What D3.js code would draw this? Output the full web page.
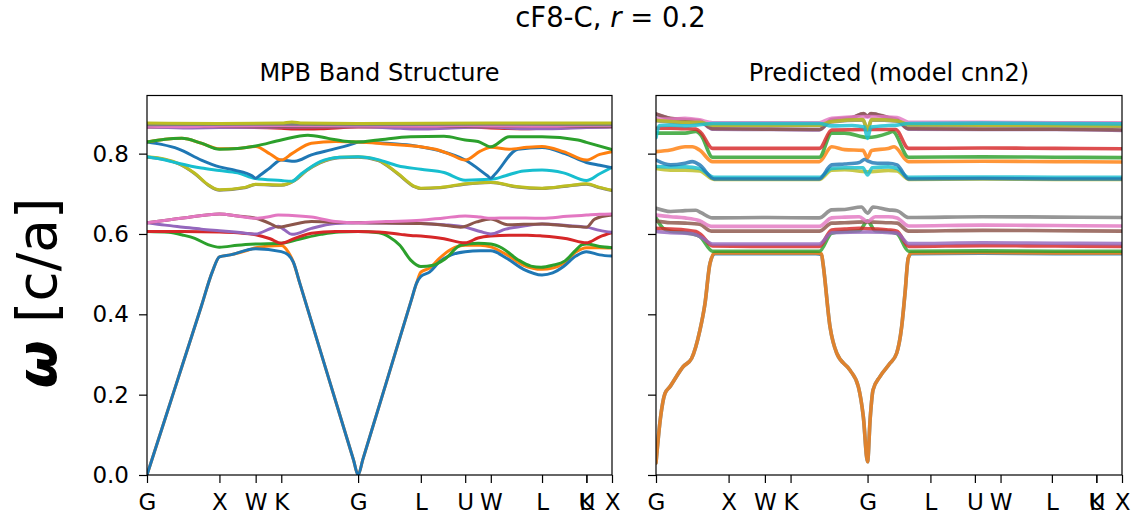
<!DOCTYPE html>
<html>
<head>
<meta charset="utf-8">
<script src="https://cdn.jsdelivr.net/npm/d3@7"></script>
<style>
  html, body { margin: 0; padding: 0; background: #fff; }
  svg { display: block; font-family: "DejaVu Sans", sans-serif; }
</style>
</head>
<body>
<script>
// ---------------- data ----------------
const tab10 = ["#1f77b4","#ff7f0e","#2ca02c","#d62728","#9467bd","#8c564b","#e377c2","#7f7f7f","#bcbd22","#17becf"];
const kTickPos = [0, 1, 1.5, 1.8536, 2.9142, 3.7802, 4.3926, 4.7462, 5.4533, 6.0656, 6.0656, 6.4192];
const kTickLabels = ["G","X","W","K","G","L","U","W","L","K","U","X"];
const yTickValues = [0, 0.2, 0.4, 0.6, 0.8];
const yMax = 0.9447;

// MPB band structure: [k, omega] knots per band
const mpb01 = [[0,0],[0.25,0.14],[0.5,0.28],[0.75,0.42],[0.9,0.505],[1.0,0.543],[1.15,0.548],[1.5,0.563],[1.854,0.556],[1.95,0.548],[2.02,0.53],[2.11,0.477],[2.5,0.2456],[2.85,0.038],[2.914,0],[2.98,0.039],[3.3,0.228],[3.65,0.436],[3.72,0.477],[3.78,0.494],[3.9,0.505],[4.04,0.531],[4.2,0.548],[4.393,0.556],[4.6,0.558],[4.746,0.558],[4.97,0.539],[5.2,0.512],[5.453,0.498],[5.6,0.503],[5.75,0.519],[5.92,0.545],[6.066,0.556],[6.25,0.548],[6.419,0.545]];
const mpb02 = [[0,0],[0.25,0.14],[0.5,0.28],[0.75,0.42],[0.9,0.505],[1.0,0.543],[1.15,0.548],[1.4,0.56],[1.5,0.566],[1.854,0.571],[1.95,0.555],[2.02,0.53],[2.11,0.477],[2.5,0.2456],[2.85,0.038],[2.914,0],[2.98,0.039],[3.3,0.228],[3.65,0.436],[3.72,0.477],[3.78,0.505],[3.9,0.515],[4.04,0.54],[4.2,0.562],[4.393,0.572],[4.6,0.572],[4.746,0.568],[4.97,0.548],[5.2,0.522],[5.453,0.512],[5.6,0.515],[5.75,0.527],[5.92,0.555],[6.066,0.566],[6.25,0.566],[6.419,0.565]];
const mpb03 = [[0,0.606],[0.3,0.604],[0.5,0.597],[0.66,0.589],[0.85,0.573],[1.0,0.567],[1.25,0.572],[1.5,0.575],[1.854,0.577],[2.1,0.587],[2.4,0.599],[2.65,0.605],[2.914,0.606],[3.2,0.603],[3.35,0.592],[3.49,0.572],[3.64,0.535],[3.78,0.519],[3.95,0.522],[4.11,0.537],[4.33,0.572],[4.57,0.577],[4.746,0.575],[4.9,0.565],[5.12,0.536],[5.3,0.52],[5.44,0.517],[5.6,0.522],[5.77,0.533],[5.92,0.56],[6.0,0.573],[6.066,0.575],[6.25,0.569],[6.419,0.566]];
const mpb04 = [[0,0.606],[0.5,0.606],[1.0,0.605],[1.25,0.603],[1.5,0.598],[1.7,0.588],[1.854,0.577],[2.04,0.589],[2.27,0.602],[2.6,0.606],[2.914,0.606],[3.2,0.605],[3.5,0.599],[3.64,0.596],[3.78,0.595],[4.1,0.588],[4.393,0.578],[4.57,0.59],[4.746,0.595],[5.0,0.597],[5.25,0.597],[5.453,0.595],[5.8,0.588],[6.066,0.578],[6.25,0.593],[6.419,0.603]];
const mpb05 = [[0,0.628],[0.25,0.622],[0.5,0.617],[0.75,0.612],[1.0,0.608],[1.25,0.604],[1.5,0.600],[1.7,0.613],[1.81,0.619],[1.9,0.61],[2.0,0.599],[2.27,0.614],[2.6,0.626],[2.914,0.628],[3.3,0.627],[3.78,0.626],[4.1,0.623],[4.393,0.617],[4.6,0.606],[4.746,0.600],[4.95,0.612],[5.2,0.62],[5.453,0.625],[5.8,0.621],[6.066,0.617],[6.25,0.609],[6.419,0.604]];
const mpb06 = [[0,0.628],[0.5,0.640],[1.0,0.650],[1.25,0.645],[1.5,0.639],[1.7,0.626],[1.81,0.617],[1.95,0.621],[2.27,0.631],[2.6,0.629],[2.914,0.628],[3.3,0.627],[3.78,0.626],[4.1,0.622],[4.33,0.617],[4.55,0.63],[4.746,0.637],[4.98,0.623],[5.2,0.624],[5.453,0.625],[5.8,0.62],[6.066,0.617],[6.18,0.637],[6.419,0.647]];
const mpb07 = [[0,0.628],[0.5,0.640],[1.0,0.650],[1.25,0.645],[1.5,0.639],[1.68,0.643],[1.81,0.647],[2.1,0.645],[2.27,0.642],[2.6,0.631],[2.914,0.628],[3.3,0.631],[3.78,0.634],[4.1,0.640],[4.393,0.645],[4.6,0.642],[4.746,0.639],[5.0,0.640],[5.453,0.639],[5.8,0.644],[6.066,0.647],[6.25,0.649],[6.419,0.650]];
const mpb08 = [[0,0.791],[0.25,0.785],[0.43,0.775],[0.66,0.750],[0.85,0.721],[1.0,0.709],[1.35,0.715],[1.5,0.723],[1.854,0.721],[2.04,0.733],[2.2,0.757],[2.39,0.777],[2.66,0.790],[2.914,0.791],[3.19,0.783],[3.46,0.750],[3.7,0.717],[3.78,0.713],[4.05,0.715],[4.393,0.724],[4.746,0.728],[5.1,0.717],[5.453,0.713],[5.8,0.719],[6.066,0.724],[6.25,0.715],[6.419,0.708]];
const mpb09 = [[0,0.792],[0.25,0.786],[0.43,0.776],[0.66,0.751],[0.85,0.722],[1.0,0.710],[1.35,0.716],[1.5,0.724],[1.854,0.722],[2.04,0.734],[2.2,0.758],[2.39,0.778],[2.66,0.791],[2.914,0.792],[3.19,0.784],[3.46,0.751],[3.7,0.718],[3.78,0.714],[4.05,0.716],[4.393,0.725],[4.746,0.729],[5.1,0.718],[5.453,0.714],[5.8,0.72],[6.066,0.725],[6.25,0.716],[6.419,0.709]];
const mpb10 = [[0,0.792],[0.25,0.784],[0.43,0.776],[0.75,0.764],[1.0,0.758],[1.25,0.752],[1.5,0.738],[1.854,0.733],[2.0,0.731],[2.12,0.748],[2.39,0.780],[2.66,0.791],[2.914,0.792],[3.19,0.785],[3.46,0.77],[3.78,0.761],[4.1,0.753],[4.393,0.734],[4.746,0.736],[4.95,0.745],[5.2,0.757],[5.453,0.759],[5.75,0.752],[6.066,0.733],[6.25,0.75],[6.419,0.766]];
const mpb11 = [[0,0.829],[0.2,0.823],[0.43,0.812],[0.75,0.784],[1.0,0.767],[1.21,0.759],[1.45,0.745],[1.5,0.739],[1.56,0.746],[1.7,0.765],[1.854,0.784],[2.04,0.781],[2.27,0.797],[2.55,0.81],[2.87,0.826],[2.914,0.829],[3.3,0.826],[3.64,0.821],[4.02,0.808],[4.393,0.784],[4.7,0.745],[4.746,0.739],[4.8,0.748],[5.12,0.811],[5.453,0.815],[5.77,0.80],[6.066,0.778],[6.25,0.771],[6.419,0.765]];
const mpb12 = [[0,0.829],[0.25,0.836],[0.48,0.838],[0.75,0.826],[1.0,0.812],[1.25,0.813],[1.5,0.818],[1.7,0.799],[1.854,0.784],[2.0,0.80],[2.27,0.826],[2.6,0.83],[2.914,0.829],[3.3,0.824],[3.78,0.817],[4.02,0.809],[4.2,0.797],[4.393,0.784],[4.6,0.806],[4.746,0.816],[5.0,0.811],[5.25,0.816],[5.453,0.818],[5.75,0.805],[6.066,0.784],[6.25,0.798],[6.419,0.805]];
const mpb13 = [[0,0.829],[0.25,0.836],[0.48,0.838],[0.75,0.826],[1.0,0.811],[1.25,0.813],[1.5,0.819],[1.854,0.834],[2.22,0.846],[2.5,0.838],[2.73,0.831],[2.914,0.829],[3.19,0.834],[3.64,0.842],[4.1,0.843],[4.393,0.834],[4.57,0.830],[4.746,0.817],[5.0,0.842],[5.453,0.842],[5.95,0.834],[6.066,0.828],[6.419,0.810]];
const mpb14 = [[0,0.866],[1.0,0.866],[1.854,0.863],[2.1,0.861],[2.4,0.862],[2.914,0.866],[3.78,0.866],[4.393,0.866],[4.746,0.864],[5.2,0.862],[5.453,0.863],[6.066,0.866],[6.419,0.867]];
const mpb15 = [[0,0.866],[0.5,0.864],[1.0,0.865],[1.854,0.866],[2.914,0.867],[3.5,0.863],[3.78,0.861],[4.2,0.864],[4.746,0.866],[5.2,0.862],[5.6,0.862],[6.066,0.865],[6.419,0.866]];
const mpb16 = [[0,0.868],[1.0,0.868],[2.914,0.868],[4.746,0.868],[6.419,0.868]];
const mpb17 = [[0,0.868],[0.5,0.867],[1.0,0.869],[1.854,0.870],[2.914,0.869],[3.78,0.868],[4.393,0.870],[4.746,0.869],[5.453,0.868],[6.066,0.870],[6.419,0.870]];
const mpb18 = [[0,0.872],[1.854,0.873],[2.914,0.872],[4.746,0.873],[6.419,0.872]];
const mpb19 = [[0,0.876],[1.0,0.875],[1.854,0.876],[2.0,0.879],[2.15,0.876],[2.914,0.875],[4.746,0.876],[6.419,0.876]];

// Predicted (model cnn2): [k, omega] knots per band
const cnn01 = [[0,0.03],[0.06,0.14],[0.124,0.203],[0.193,0.22],[0.376,0.27],[0.49,0.29],[0.606,0.361],[0.675,0.427],[0.744,0.527],[0.813,0.551],[1.5,0.551],[2.2,0.551],[2.28,0.549],[2.3,0.527],[2.397,0.369],[2.49,0.303],[2.672,0.261],[2.787,0.22],[2.856,0.145],[2.914,0.033],[2.95,0.14],[2.99,0.212],[3.085,0.245],[3.223,0.278],[3.315,0.303],[3.384,0.369],[3.43,0.452],[3.475,0.54],[3.52,0.551],[4.5,0.552],[5.5,0.551],[6.419,0.551]];
const cnn02 = [[0,0.03],[0.06,0.14],[0.124,0.203],[0.193,0.22],[0.376,0.27],[0.49,0.29],[0.606,0.361],[0.675,0.427],[0.744,0.527],[0.813,0.553],[1.5,0.553],[2.2,0.553],[2.28,0.551],[2.3,0.527],[2.397,0.369],[2.49,0.303],[2.672,0.261],[2.787,0.22],[2.856,0.145],[2.914,0.033],[2.95,0.14],[2.99,0.212],[3.085,0.245],[3.223,0.278],[3.315,0.303],[3.384,0.369],[3.43,0.452],[3.475,0.54],[3.52,0.553],[4.5,0.554],[5.5,0.553],[6.419,0.553]];
const cnn03 = [[0,0.64],[0.1,0.614],[0.2,0.607],[0.4,0.603],[0.6,0.594],[0.78,0.557],[1.5,0.557],[2.25,0.557],[2.42,0.602],[2.6,0.606],[2.8,0.608],[2.914,0.632],[3.02,0.608],[3.2,0.606],[3.32,0.601],[3.48,0.557],[4.5,0.558],[5.5,0.557],[6.419,0.557]];
const cnn04 = [[0,0.614],[0.2,0.612],[0.4,0.61],[0.55,0.606],[0.62,0.598],[0.78,0.57],[1.5,0.569],[2.25,0.569],[2.42,0.61],[2.6,0.612],[2.8,0.614],[2.914,0.613],[3.05,0.612],[3.2,0.61],[3.32,0.607],[3.48,0.569],[4.5,0.571],[5.5,0.57],[6.419,0.569]];
const cnn05 = [[0,0.606],[0.2,0.603],[0.4,0.602],[0.55,0.598],[0.62,0.592],[0.78,0.575],[1.5,0.575],[2.25,0.575],[2.42,0.603],[2.914,0.605],[3.32,0.602],[3.48,0.576],[4.5,0.578],[5.5,0.577],[6.419,0.576]];
const cnn06 = [[0,0.632],[0.2,0.628],[0.4,0.627],[0.6,0.624],[0.76,0.607],[1.5,0.607],[2.25,0.607],[2.42,0.627],[2.6,0.628],[2.914,0.63],[3.2,0.628],[3.32,0.627],[3.48,0.607],[4.5,0.609],[5.5,0.608],[6.419,0.607]];
const cnn07 = [[0,0.647],[0.2,0.643],[0.4,0.640],[0.6,0.633],[0.76,0.619],[1.5,0.619],[2.25,0.619],[2.42,0.64],[2.6,0.642],[2.8,0.643],[2.914,0.631],[3.02,0.643],[3.2,0.643],[3.32,0.64],[3.48,0.62],[4.5,0.622],[5.5,0.621],[6.419,0.620]];
const cnn08 = [[0,0.664],[0.2,0.656],[0.4,0.658],[0.55,0.659],[0.62,0.653],[0.78,0.640],[1.5,0.641],[2.25,0.64],[2.42,0.66],[2.6,0.661],[2.83,0.667],[2.914,0.652],[2.99,0.667],[3.2,0.66],[3.32,0.658],[3.48,0.641],[4.5,0.643],[5.5,0.642],[6.419,0.641]];
const cnn09 = [[0,0.763],[0.2,0.759],[0.4,0.759],[0.6,0.757],[0.8,0.736],[1.5,0.736],[2.25,0.736],[2.42,0.759],[2.6,0.76],[2.914,0.755],[3.2,0.758],[3.32,0.757],[3.48,0.736],[4.5,0.737],[5.5,0.736],[6.419,0.736]];
const cnn10 = [[0,0.768],[0.2,0.767],[0.4,0.767],[0.6,0.763],[0.8,0.741],[1.5,0.741],[2.25,0.741],[2.42,0.763],[2.6,0.765],[2.85,0.765],[2.914,0.747],[2.98,0.765],[3.2,0.767],[3.32,0.763],[3.48,0.741],[4.5,0.742],[5.5,0.741],[6.419,0.741]];
const cnn11 = [[0,0.784],[0.2,0.772],[0.4,0.776],[0.5,0.78],[0.6,0.772],[0.8,0.737],[1.5,0.737],[2.25,0.737],[2.42,0.772],[2.6,0.774],[2.8,0.778],[2.88,0.786],[2.914,0.782],[3.05,0.776],[3.2,0.776],[3.32,0.772],[3.48,0.737],[4.5,0.738],[5.5,0.737],[6.419,0.737]];
const cnn12 = [[0,0.805],[0.2,0.809],[0.4,0.817],[0.5,0.817],[0.6,0.809],[0.78,0.780],[1.5,0.780],[2.25,0.78],[2.42,0.817],[2.6,0.81],[2.85,0.808],[2.914,0.79],[2.97,0.808],[3.2,0.813],[3.28,0.817],[3.48,0.78],[4.5,0.781],[5.5,0.78],[6.419,0.779]];
const cnn13 = [[0,0.851],[0.2,0.851],[0.4,0.851],[0.55,0.855],[0.62,0.846],[0.78,0.791],[1.5,0.791],[2.25,0.791],[2.42,0.851],[2.6,0.851],[2.914,0.84],[3.2,0.851],[3.26,0.855],[3.48,0.791],[4.5,0.792],[5.5,0.791],[6.419,0.790]];
const cnn14 = [[0,0.863],[0.2,0.863],[0.4,0.862],[0.55,0.861],[0.62,0.852],[0.78,0.813],[1.5,0.813],[2.25,0.813],[2.42,0.859],[2.914,0.86],[3.3,0.86],[3.48,0.813],[4.5,0.814],[5.5,0.813],[6.419,0.812]];
const cnn15 = [[0,0.898],[0.2,0.887],[0.4,0.884],[0.6,0.881],[0.78,0.861],[1.5,0.860],[2.25,0.859],[2.42,0.884],[2.7,0.889],[2.86,0.899],[2.914,0.892],[2.96,0.899],[3.2,0.889],[3.32,0.884],[3.48,0.861],[4.5,0.860],[5.5,0.860],[6.419,0.858]];
const cnn16 = [[0,0.899],[0.2,0.888],[0.4,0.885],[0.6,0.882],[0.78,0.862],[1.5,0.861],[2.25,0.86],[2.42,0.885],[2.7,0.89],[2.86,0.9],[2.914,0.893],[2.96,0.9],[3.2,0.89],[3.32,0.885],[3.48,0.862],[4.5,0.861],[5.5,0.861],[6.419,0.859]];
const cnn17 = [[0,0.887],[0.2,0.886],[0.4,0.888],[0.6,0.884],[0.78,0.877],[1.5,0.877],[2.25,0.877],[2.42,0.888],[2.914,0.892],[3.32,0.89],[3.48,0.878],[4.5,0.878],[5.5,0.877],[6.419,0.877]];
const cnn18 = [[0,0.882],[0.2,0.879],[0.4,0.877],[0.6,0.877],[0.78,0.870],[1.5,0.870],[2.25,0.870],[2.42,0.879],[2.85,0.884],[2.914,0.859],[2.97,0.884],[3.32,0.881],[3.48,0.871],[4.5,0.870],[5.5,0.869],[6.419,0.868]];
const cnn19 = [[0,0.883],[0.2,0.88],[0.4,0.878],[0.6,0.878],[0.78,0.871],[1.5,0.871],[2.25,0.871],[2.42,0.88],[2.85,0.885],[2.914,0.86],[2.97,0.885],[3.32,0.882],[3.48,0.872],[4.5,0.871],[5.5,0.87],[6.419,0.869]];
const cnn20 = [[0,0.84],[0.05,0.87],[0.2,0.871],[0.4,0.869],[0.6,0.872],[0.78,0.875],[1.5,0.875],[2.25,0.875],[2.42,0.869],[2.7,0.87],[2.87,0.866],[2.914,0.838],[2.96,0.866],[3.2,0.87],[3.32,0.871],[3.48,0.875],[4.5,0.876],[5.5,0.875],[6.419,0.874]];

const mpbBands = [mpb01,mpb02,mpb03,mpb04,mpb05,mpb06,mpb07,mpb08,mpb09,mpb10,mpb11,mpb12,mpb13,mpb14,mpb15,mpb16,mpb17,mpb18,mpb19];
const cnnBands = [cnn01,cnn02,cnn03,cnn04,cnn05,cnn06,cnn07,cnn08,cnn09,cnn10,cnn11,cnn12,cnn13,cnn14,cnn15,cnn16,cnn17,cnn18,cnn19,cnn20];
// MPB acoustic band 1 is drawn above band 2 in the reference
const mpbDrawOrder = [1,0,2,3,4,5,6,7,8,9,10,11,12,13,14,15,16,17,18];
const cnnDrawOrder = d3.range(20);

// ---------------- drawing ----------------
const W = 1142, H = 518;
const FONT = "DejaVu Sans";
const svg = d3.select("body").append("svg").attr("width", W).attr("height", H);
const yTop = 95.5, yBot = 475;
const y = d3.scaleLinear().domain([0, yMax]).range([yBot, yTop]);

const panels = [
  {x0: 147, x1: 612, title: "MPB Band Structure", bands: mpbBands, order: mpbDrawOrder, labels: true, lw: 3, op: 1, id: "p0"},
  {x0: 656, x1: 1122, title: "Predicted (model cnn2)", bands: cnnBands, order: cnnDrawOrder, labels: false, lw: 3.6, op: 0.82, id: "p1"}
];

const defs = svg.append("defs");

panels.forEach(p => {
  const x = d3.scaleLinear().domain([0, kTickPos[kTickPos.length - 1]]).range([p.x0, p.x1]);
  defs.append("clipPath").attr("id", "clip" + p.id)
    .append("rect").attr("x", p.x0).attr("y", yTop).attr("width", p.x1 - p.x0).attr("height", yBot - yTop);

  const line = d3.line().x(d => x(d[0])).y(d => y(d[1])).curve(d3.curveMonotoneX);
  const g = svg.append("g").attr("clip-path", `url(#clip${p.id})`);
  p.order.forEach(i => {
    g.append("path")
      .attr("d", line(p.bands[i]))
      .attr("fill", "none")
      .attr("stroke", tab10[i % 10])
      .attr("stroke-width", p.lw)
      .attr("stroke-opacity", p.op)
      .attr("stroke-linejoin", "round")
      .attr("stroke-linecap", "round");
  });

  // frame
  svg.append("rect").attr("x", p.x0).attr("y", yTop).attr("width", p.x1 - p.x0).attr("height", yBot - yTop)
    .attr("fill", "none").attr("stroke", "#000").attr("stroke-width", 1.2);

  // x axis
  const gx = svg.append("g").attr("transform", `translate(0,${yBot})`)
    .call(d3.axisBottom(x).tickValues(kTickPos).tickSize(8).tickPadding(11)
      .tickFormat((d, i) => kTickLabels[i]));
  gx.select(".domain").remove();
  gx.selectAll("line").attr("stroke", "#000").attr("stroke-width", 1.2);
  gx.selectAll("text").attr("font-family", FONT).attr("font-size", 23).attr("fill", "#000");

  // y axis
  const gy = svg.append("g").attr("transform", `translate(${p.x0},0)`)
    .call(d3.axisLeft(y).tickValues(yTickValues).tickSize(8).tickPadding(10)
      .tickFormat(p.labels ? d3.format(".1f") : () => ""));
  gy.select(".domain").remove();
  gy.selectAll("line").attr("stroke", "#000").attr("stroke-width", 1.2);
  gy.selectAll("text").attr("font-family", FONT).attr("font-size", 23).attr("fill", "#000");

  // subplot title
  svg.append("text").attr("x", (p.x0 + p.x1) / 2).attr("y", 81)
    .attr("text-anchor", "middle").attr("font-family", FONT).attr("font-size", 24)
    .attr("fill", "#000").text(p.title);
});

// y label
const yl = svg.append("text")
  .attr("transform", "translate(56,293) rotate(-90)")
  .attr("text-anchor", "middle").attr("font-family", FONT).attr("font-size", 55).attr("fill", "#000");
yl.append("tspan").attr("font-style", "italic").attr("font-weight", "bold").text("ω");
yl.append("tspan").text(" [c/a]");

// suptitle
const st = svg.append("text").attr("x", 610.5).attr("y", 26.5)
  .attr("text-anchor", "middle").attr("font-family", FONT).attr("font-size", 27.5).attr("fill", "#000");
st.append("tspan").text("cF8-C, ");
st.append("tspan").attr("font-style", "italic").text("r");
st.append("tspan").text(" = 0.2");
</script>
</body>
</html>
